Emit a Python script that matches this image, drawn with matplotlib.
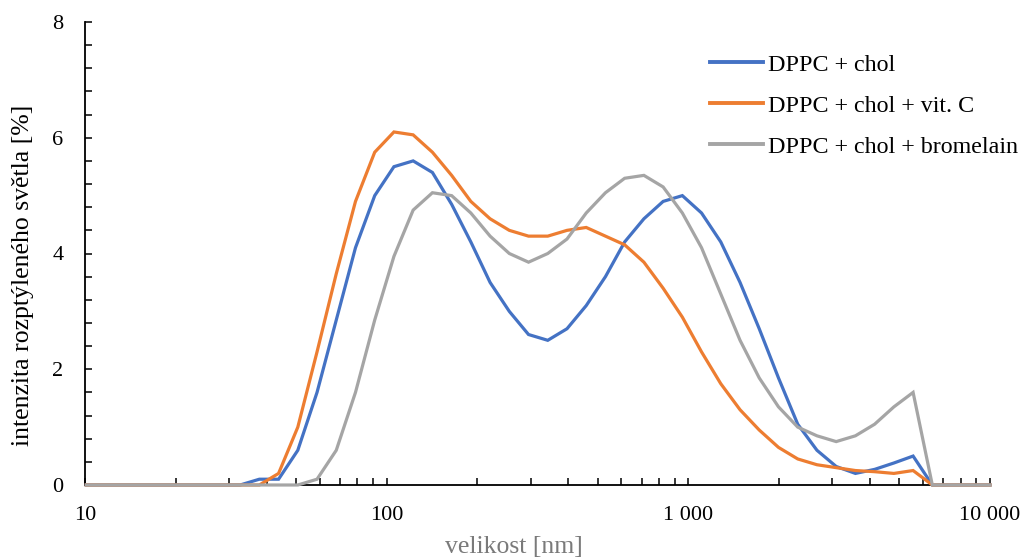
import matplotlib
matplotlib.use("Agg")
import matplotlib.pyplot as plt
from matplotlib.ticker import FixedLocator, FuncFormatter, MultipleLocator, LogLocator, NullFormatter

plt.rcParams['font.family'] = ['Liberation Serif', 'DejaVu Serif']

size_nm = [10.1, 11.7, 13.54, 15.69, 18.17, 21.04, 24.36, 28.21, 32.67, 37.84,
           43.82, 50.75, 58.77, 68.06, 78.82, 91.28, 105.7, 122.4, 141.8, 164.2,
           190.1, 220.2, 255.0, 295.3, 342.0, 396.1, 458.7, 531.2, 615.1, 712.4,
           825.0, 955.4, 1106, 1281, 1484, 1718, 1990, 2305, 2669, 3091,
           3580, 4145, 4801, 5560, 6439, 7456, 8635, 10000]

dppc_chol = [0, 0, 0, 0, 0, 0, 0, 0, 0, 0.1,
             0.1, 0.6, 1.6, 2.85, 4.1, 5.0, 5.5, 5.6, 5.4, 4.85,
             4.2, 3.5, 3.0, 2.6, 2.5, 2.7, 3.1, 3.6, 4.2, 4.6,
             4.9, 5.0, 4.7, 4.2, 3.5, 2.7, 1.85, 1.05, 0.6, 0.32,
             0.2, 0.27, 0.38, 0.5, 0, 0, 0, 0]

dppc_chol_vitc = [0, 0, 0, 0, 0, 0, 0, 0, 0, 0,
                  0.2, 1.0, 2.3, 3.65, 4.9, 5.75, 6.1, 6.05, 5.75, 5.35,
                  4.9, 4.6, 4.4, 4.3, 4.3, 4.4, 4.45, 4.3, 4.15, 3.85,
                  3.4, 2.9, 2.3, 1.75, 1.3, 0.95, 0.65, 0.45, 0.35, 0.3,
                  0.25, 0.23, 0.2, 0.25, 0, 0, 0, 0]

dppc_chol_brom = [0, 0, 0, 0, 0, 0, 0, 0, 0, 0,
                  0, 0, 0.1, 0.6, 1.6, 2.85, 3.95, 4.75, 5.05, 5.0,
                  4.7, 4.3, 4.0, 3.85, 4.0, 4.25, 4.7, 5.05, 5.3, 5.35,
                  5.15, 4.7, 4.1, 3.3, 2.5, 1.85, 1.35, 1.0, 0.85, 0.75,
                  0.85, 1.05, 1.35, 1.6, 0, 0, 0, 0]

labels = ['DPPC + chol', 'DPPC + chol + vit. C', 'DPPC + chol + bromelain']
colors = ['#4472C4', '#ED7D31', '#A5A5A5']

W, H = 1024, 558
fig = plt.figure(figsize=(W/100, H/100), dpi=100)
ax = fig.add_axes([85/W, 1-485/H, (990-85)/W, (485-22)/H])

for ys, lab, c in zip([dppc_chol, dppc_chol_vitc, dppc_chol_brom], labels, colors):
    ax.plot(size_nm, ys, color=c, lw=2.3, label=lab, clip_on=False,
            solid_joinstyle='miter', zorder=3)

ax.set_xscale('log')
ax.set_xlim(10, 10000)
ax.set_ylim(0, 8)

ax.xaxis.set_major_locator(FixedLocator([10, 100, 1000, 10000]))
ax.xaxis.set_major_formatter(FuncFormatter(lambda v, p: f"{int(round(v)):,}".replace(",", " ")))
ax.xaxis.set_minor_locator(LogLocator(base=10, subs=range(2, 10)))
ax.xaxis.set_minor_formatter(NullFormatter())
ax.yaxis.set_major_locator(MultipleLocator(2))
ax.yaxis.set_minor_locator(MultipleLocator(0.4))

for s in ['top', 'right']:
    ax.spines[s].set_visible(False)
for s in ['left', 'bottom']:
    ax.spines[s].set_linewidth(1.3)
    ax.spines[s].set_color('black')

ax.tick_params(axis='both', which='both', direction='in', width=1.1, colors='black',
               labelsize=16, length=5)
ax.tick_params(axis='x', which='major', pad=15)
ax.tick_params(axis='y', which='major', pad=15.5)

ax.set_xlabel('velikost [nm]', fontsize=18.5, color='#7a7a7a')
ax.xaxis.label.set_va('center')
ax.xaxis.set_label_coords((514-85)/905, (485-547)/463)

ax.set_ylabel('intenzita rozptýleného světla [%]', fontsize=18.5, color='black')
ax.yaxis.label.set_va('center')
ax.yaxis.set_label_coords((23-85)/905, (485-275)/463)

leg = ax.legend(loc='upper left', bbox_to_anchor=(710/W, 1-54/H),
                bbox_transform=fig.transFigure, frameon=False,
                fontsize=17.3, handlelength=2.2, handletextpad=0.2,
                labelspacing=0.8, borderpad=0, borderaxespad=0)
for ln in leg.get_lines():
    ln.set_linewidth(2.8)

fig.savefig('out.png', dpi=100)
